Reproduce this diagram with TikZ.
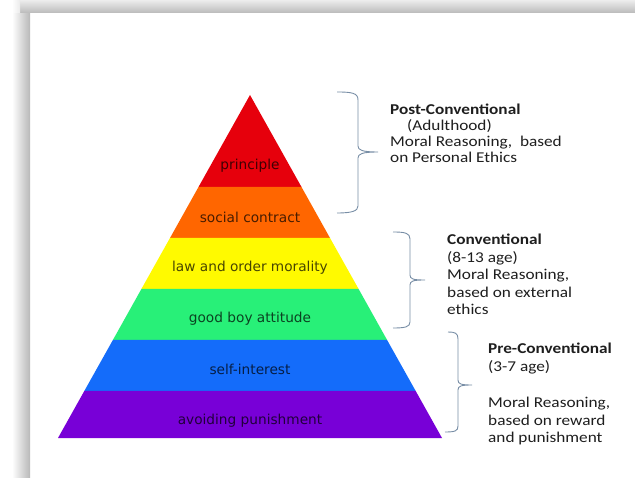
\documentclass[tikz,border=0pt]{standalone}
\usepackage{fontspec}
\setmainfont{Carlito}
\newfontfamily\sidefont[FakeStretch=1.15]{Carlito}
\newfontfamily\layerfont{DejaVu Sans}
\definecolor{lred}{RGB}{230,0,12}
\definecolor{lorange}{RGB}{255,102,0}
\definecolor{lyellow}{RGB}{255,250,0}
\definecolor{lgreen}{RGB}{40,240,120}
\definecolor{lblue}{RGB}{20,108,250}
\definecolor{lpurple}{RGB}{120,0,215}
\definecolor{bracecol}{RGB}{120,142,166}
\definecolor{sidetext}{RGB}{30,30,30}
\begin{document}
\begin{tikzpicture}[x=1pt,y=-1pt,
  layerlabel/.style={font=\layerfont\fontsize{13.7}{16}\selectfont,text=black,text opacity=0.72,inner sep=0pt},
  sidelabel/.style={font=\sidefont\fontsize{15}{17.5}\selectfont,text=sidetext,inner sep=0pt,anchor=base west},
  bracestyle/.style={draw=bracecol,line width=0.9pt}]
\useasboundingbox (0,0) rectangle (635,478);
\fill[white] (0,0) rectangle (635,478);
% frame shadow
\shade[left color=white,right color=black!28] (12,9) rectangle (30,478);
\shade[top color=black!7,bottom color=black!27] (20,0) rectangle (635,13);
\shade[left color=white,right color=black!8] (12,0) rectangle (20,13);
% pyramid layers
\fill[lred] (250,95) -- (301.5,187) -- (198.5,187) -- cycle;
\fill[lorange] (198.5,187) -- (301.5,187) -- (330,238) -- (170,238) -- cycle;
\fill[lyellow] (170,238) -- (330,238) -- (358.6,289) -- (141.4,289) -- cycle;
\fill[lgreen] (141.4,289) -- (358.6,289) -- (387.1,340) -- (112.9,340) -- cycle;
\fill[lblue] (112.9,340) -- (387.1,340) -- (415.7,391) -- (84.3,391) -- cycle;
\fill[lpurple] (84.3,391) -- (415.7,391) -- (442,438) -- (58,438) -- cycle;
% layer labels
\node[layerlabel] (principle) at (250,166) {principle};
\node[layerlabel] (social) at (250,217) {social contract};
\node[layerlabel] (law) at (250,268) {law and order morality};
\node[layerlabel] (goodboy) at (250,319) {good boy attitude};
\node[layerlabel] (self) at (250,369) {self-interest};
\node[layerlabel] (avoid) at (250,421) {avoiding punishment};
% braces
\draw[bracestyle] (337,92) .. controls (352,92) and (358,93) .. (358,100)
  -- (358,146) .. controls (358,150) and (362,152) .. (378,152)
  .. controls (362,152) and (358,154) .. (358,158)
  -- (358,206) .. controls (358,211) and (352,213) .. (337,213);
\draw[bracestyle] (393,232) .. controls (405,232) and (410,233) .. (410,239)
  -- (410,275) .. controls (410,279) and (413,280) .. (425,280)
  .. controls (413,280) and (410,281) .. (410,285)
  -- (410,322) .. controls (410,327) and (405,328) .. (393,328);
\draw[bracestyle] (448,332) .. controls (455,332) and (458,333) .. (458,339)
  -- (458,380) .. controls (458,384) and (461,385) .. (472,385)
  .. controls (461,385) and (458,386) .. (458,390)
  -- (458,426) .. controls (458,431) and (455,432) .. (445,432);
% side texts
\node[sidelabel] (post) at (390,115) {\vtop{\baselineskip=16pt
  \hbox{\bfseries Post-Conventional}
  \hbox{\hspace*{17pt}(Adulthood)}
  \hbox{Moral Reasoning,\ \ based}
  \hbox{on Personal Ethics}}};
\node[sidelabel] (conv) at (447,245) {\vtop{\baselineskip=17.5pt
  \hbox{\bfseries Conventional}
  \hbox{(8-13 age)}
  \hbox{Moral Reasoning,}
  \hbox{based on external}
  \hbox{ethics}}};
\node[sidelabel] (pre) at (488,354) {\vtop{\baselineskip=17.8pt
  \hbox{\bfseries Pre-Conventional}
  \hbox{(3-7 age)}
  \hbox{}
  \hbox{Moral Reasoning,}
  \hbox{based on reward}
  \hbox{and punishment}}};
\end{tikzpicture}
\end{document}
